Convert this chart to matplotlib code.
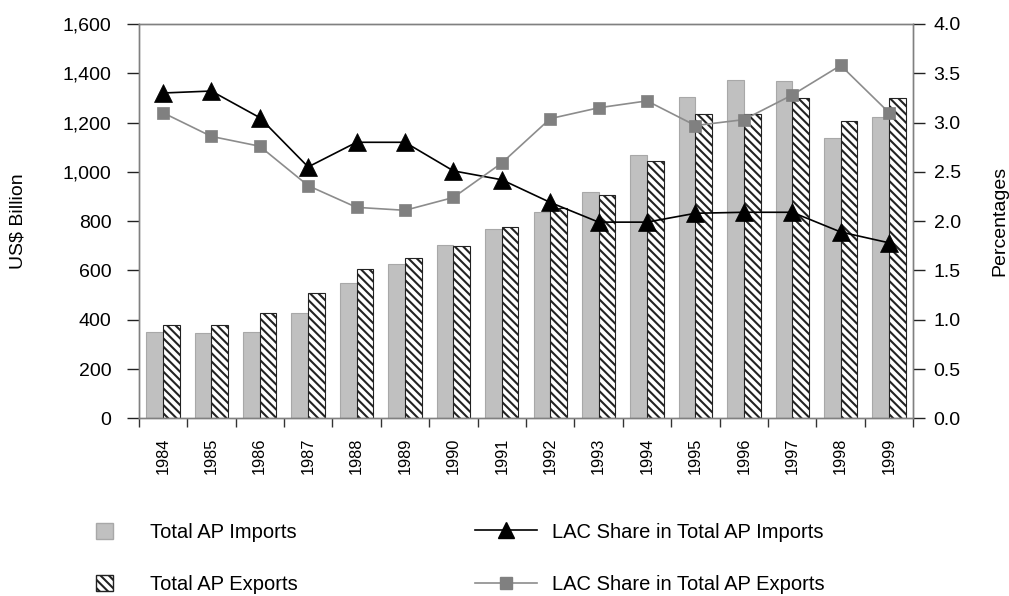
import matplotlib
matplotlib.use("Agg")
import matplotlib.pyplot as plt
import numpy as np
from matplotlib.ticker import FuncFormatter, FixedLocator, NullFormatter
from matplotlib.lines import Line2D
from matplotlib.patches import Patch

plt.rcParams['font.family'] = ['Liberation Sans', 'DejaVu Sans']
plt.rcParams['hatch.linewidth'] = 1.5

years = ["1984", "1985", "1986", "1987", "1988", "1989", "1990", "1991",
         "1992", "1993", "1994", "1995", "1996", "1997", "1998", "1999"]
imports = [349, 345, 349, 429, 548, 625, 703, 768, 836, 920, 1070, 1305, 1371, 1370, 1137, 1221]
exports = [378, 378, 429, 507, 606, 650, 698, 775, 852, 907, 1044, 1234, 1235, 1298, 1208, 1301]
share_imports = [3.30, 3.32, 3.05, 2.55, 2.80, 2.80, 2.51, 2.42, 2.19, 1.99, 1.99, 2.08, 2.09, 2.09, 1.89, 1.78]
share_exports = [3.10, 2.86, 2.76, 2.36, 2.14, 2.11, 2.24, 2.59, 3.04, 3.15, 3.22, 2.97, 3.03, 3.28, 3.58, 3.10]

fs = 14
lfs = 14.5
W, H = 1009, 596
fig = plt.figure(figsize=(W / 100, H / 100), dpi=100)
L, R, T, B = 138.7, 913.3, 24.0, 418.3
ax = fig.add_axes([L / W, 1 - B / H, (R - L) / W, (B - T) / H])
x = np.arange(len(years))
w = 0.345
ax.bar(x - w/2, imports, w, color='#C0C0C0', edgecolor='#A8A8A8', linewidth=0.8, zorder=2)
ax.bar(x + w/2, exports, w, color='white', edgecolor='#222222', hatch='\\\\\\\\', linewidth=0.8, zorder=2)
ax.set_xlim(-0.5, len(years) - 0.5)
ax.set_ylim(0, 1600)
ax.set_yticks(np.arange(0, 1601, 200))
ax.yaxis.set_major_formatter(FuncFormatter(lambda v, p: f"{int(v):,}"))
ax.xaxis.set_major_locator(FixedLocator(np.arange(-0.5, len(years), 1.0)))
ax.xaxis.set_major_formatter(NullFormatter())
ax.xaxis.set_minor_locator(FixedLocator(x))
ax.set_xticklabels(years, minor=True, rotation=90, fontsize=11.8)
ax.tick_params(axis='x', which='minor', length=0, pad=14)
ax.tick_params(axis='x', which='major', length=6.5, width=1.0, color='#333333', direction='out')
ax.tick_params(axis='y', labelsize=fs, length=8.6, width=1.0, color='#222222', direction='out', pad=11)
for s in ax.spines.values():
    s.set_color('#808080')
    s.set_linewidth(1.0)

ax2 = ax.twinx()
ax2.plot(x, share_imports, color='black', linewidth=1.2, marker='^', markersize=13,
         markerfacecolor='black', markeredgecolor='black', markeredgewidth=0.5, zorder=3)
ax2.plot(x, share_exports, color='#8C8C8C', linewidth=1.2, marker='s', markersize=9.2,
         markerfacecolor='#808080', markeredgecolor='#808080', markeredgewidth=0.5, zorder=3)
ax2.set_ylim(0, 4.0)
ax2.set_yticks(np.arange(0, 4.01, 0.5))
ax2.yaxis.set_major_formatter(FuncFormatter(lambda v, p: f"{v:.1f}"))
ax2.tick_params(axis='y', labelsize=fs, length=8.6, width=1.0, color='#222222', direction='out', pad=6)
for s in ax2.spines.values():
    s.set_color('#808080')
    s.set_linewidth(1.0)

fig.text(18 / W, 1 - 221 / H, "US$ Billion", rotation=90, ha='center', va='center', fontsize=fs)
fig.text(1000 / W, 1 - 221 / H, "Percentages", rotation=90, ha='center', va='center', fontsize=fs)

bar_handles = [
    Patch(facecolor='#C0C0C0', edgecolor='#A8A8A8'),
    Patch(facecolor='white', edgecolor='#222222', hatch='\\\\\\\\'),
]
line_handles = [
    Line2D([0], [0], color='black', marker='^', markersize=12, linewidth=1.2),
    Line2D([0], [0], color='#8C8C8C', marker='s', markersize=9.2, markerfacecolor='#808080',
           markeredgecolor='#808080', linewidth=1.2),
]
leg1 = fig.legend(bar_handles, ["Total AP Imports", "Total AP Exports"], loc='upper left',
                  bbox_to_anchor=(96 / W, 1 - 522.5 / H), frameon=False, fontsize=lfs,
                  borderpad=0, borderaxespad=0, labelspacing=1.68,
                  handlelength=0.85, handleheight=0.85, handletextpad=1.85)
leg2 = fig.legend(line_handles, ["LAC Share in Total AP Imports", "LAC Share in Total AP Exports"],
                  loc='upper left', bbox_to_anchor=(475 / W, 1 - 522.5 / H), frameon=False,
                  fontsize=lfs, borderpad=0, borderaxespad=0, labelspacing=1.68,
                  handlelength=3.1, handletextpad=0.72)
fig.savefig("out.png", dpi=100)
